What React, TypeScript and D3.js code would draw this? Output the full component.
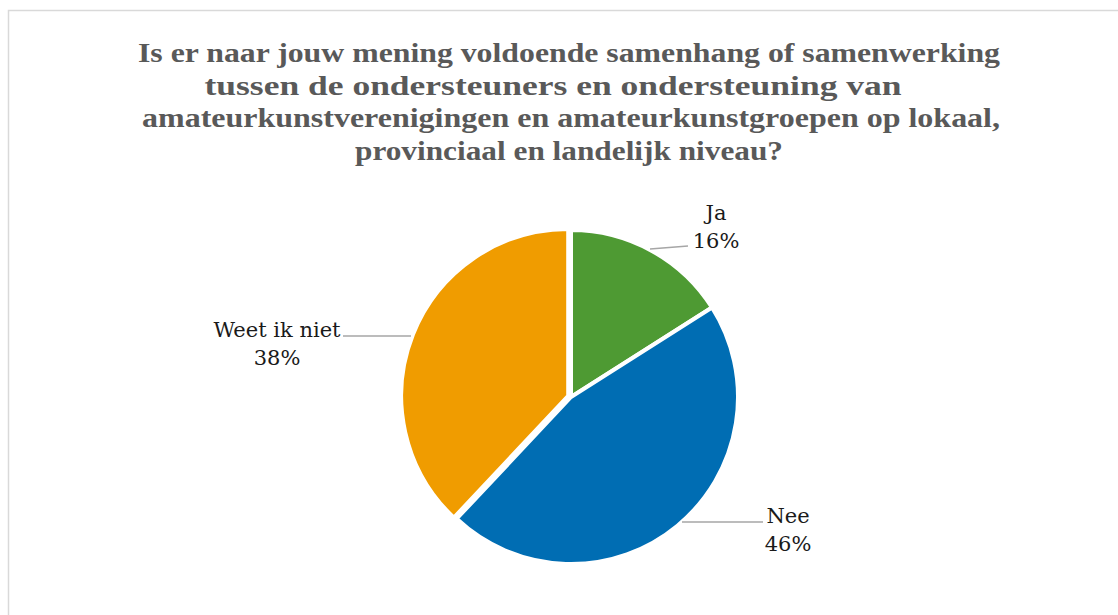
import React from "react";
import * as d3 from "d3";

// slice data (percentages)
const categories = ["Ja", "Nee", "Weet ik niet"];
const values = [16, 46, 38];
const colors = ["#4e9a33", "#006db3", "#f09c00"];

const titleLines = [
  "Is er naar jouw mening voldoende samenhang of samenwerking",
  "tussen de ondersteuners en ondersteuning van",
  "amateurkunstverenigingen en amateurkunstgroepen op lokaal,",
  "provinciaal en landelijk niveau?",
];

// layout of labels / leader lines (pixels)
const titleLayout = [
  { x: 569, w: 862 },
  { x: 553, w: 697 },
  { x: 571, w: 858 },
  { x: 569, w: 428 },
];
const labelLayout: Record<string, { x: number; y: number; line: number[] }> = {
  Ja: { x: 716, y: 220, line: [650, 249, 688, 246] },
  Nee: { x: 788, y: 523, line: [682, 522, 763, 522] },
  "Weet ik niet": { x: 277, y: 337, line: [343, 336, 411, 336] },
};
const explode: Record<string, number> = { Ja: 0, Nee: 0, "Weet ik niet": 3 };

const App = () => {
  const width = 1118;
  const height = 615;
  const cx = 571;
  const cy = 397;
  const radius = 167;

  const slices = categories.map((c, i) => ({ cat: c, value: values[i], color: colors[i] }));
  const pie = d3
    .pie<any>()
    .sort(null)
    .value((d) => d.value);
  const arcs = pie(slices);
  const arc = d3.arc<any>().innerRadius(0).outerRadius(radius);

  return (
    <svg
      width={width}
      height={height}
      style={{ position: "absolute", left: 0, top: 0, background: "#fff" }}
    >
      <rect x={8.5} y={10.5} width={1300} height={800} fill="#fff" stroke="#d9d9d9" strokeWidth={1.5} />
      <g
        fontFamily="'Liberation Serif', serif"
        fontWeight="bold"
        fontSize={28}
        fill="#595959"
        textAnchor="middle"
      >
        {titleLines.map((t, i) => (
          <text
            key={i}
            x={titleLayout[i].x}
            y={62 + i * 32.5}
            textLength={titleLayout[i].w}
            lengthAdjust="spacingAndGlyphs"
          >
            {t}
          </text>
        ))}
      </g>
      <g transform={`translate(${cx},${cy})`}>
        {arcs.map((a) => {
          const mid = (a.startAngle + a.endAngle) / 2;
          const off = explode[a.data.cat];
          const dx = Math.sin(mid) * off;
          const dy = -Math.cos(mid) * off;
          return (
            <path
              key={a.data.cat}
              d={arc(a) as string}
              transform={`translate(${dx},${dy})`}
              fill={a.data.color}
              stroke="#fff"
              strokeWidth={4}
              strokeLinejoin="miter"
            />
          );
        })}
      </g>
      <g fontFamily="'DejaVu Serif', serif" fontSize={21} fill="#1a1a1a" textAnchor="middle">
        {arcs.map((a) => {
          const l = labelLayout[a.data.cat];
          return (
            <g key={a.data.cat}>
              <line
                x1={l.line[0]}
                y1={l.line[1]}
                x2={l.line[2]}
                y2={l.line[3]}
                stroke="#a6a6a6"
                strokeWidth={1.5}
              />
              <text x={l.x} y={l.y}>
                {a.data.cat}
              </text>
              <text x={l.x} y={l.y + 28}>
                {`${a.data.value}%`}
              </text>
            </g>
          );
        })}
      </g>
    </svg>
  );
};

export default App;
